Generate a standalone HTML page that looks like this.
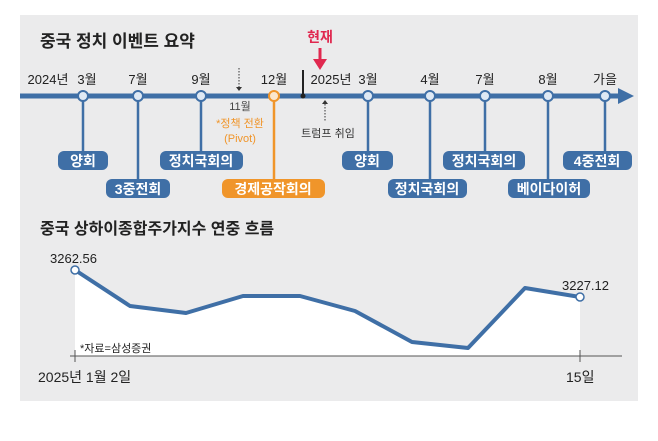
<!DOCTYPE html>
<html><head><meta charset="utf-8"><style>
body{margin:0;background:#fff;width:658px;height:436px;overflow:hidden}
svg text{font-family:"Liberation Sans","Noto Sans CJK KR",sans-serif}
</style></head><body>
<svg width="658" height="436" xmlns="http://www.w3.org/2000/svg">
<rect x="20" y="15" width="618" height="386" fill="#ebebec"/>
<text x="40" y="47" font-size="17" font-weight="bold" fill="#222">중국 정치 이벤트 요약</text>
<text x="320" y="42" font-size="14" font-weight="bold" fill="#e0284f" text-anchor="middle">현재</text>
<line x1="320" y1="48" x2="320" y2="60" stroke="#e0284f" stroke-width="3"/>
<polygon points="313,59 327,59 320,70" fill="#e0284f"/>
<line x1="20" y1="96" x2="622" y2="96" stroke="#3f6fa6" stroke-width="5"/>
<polygon points="618,88 634,96 618,104" fill="#3f6fa6"/>
<line x1="303" y1="70" x2="303" y2="96" stroke="#222" stroke-width="2"/>
<circle cx="303" cy="96" r="2.5" fill="#222"/>
<g font-size="13" fill="#222" text-anchor="middle">
<text x="48" y="84">2024년</text>
<text x="87" y="84">3월</text>
<text x="138" y="84">7월</text>
<text x="201" y="84">9월</text>
<text x="274" y="84">12월</text>
<text x="331" y="84">2025년</text>
<text x="368" y="84">3월</text>
<text x="430" y="84">4월</text>
<text x="485" y="84">7월</text>
<text x="548" y="84">8월</text>
<text x="605" y="84">가을</text>
</g>
<line x1="239" y1="68" x2="239" y2="88" stroke="#333" stroke-width="1" stroke-dasharray="1.5,1.5"/>
<polygon points="236,87 242,87 239,91" fill="#333"/>
<line x1="325" y1="104" x2="325" y2="122" stroke="#333" stroke-width="1" stroke-dasharray="1.5,1.5"/>
<polygon points="322,104 328,104 325,100" fill="#333"/>
<g font-size="11" text-anchor="middle">
<text x="240" y="110" fill="#444">11월</text>
<text x="240" y="127" fill="#f0952a">*정책 전환</text>
<text x="240" y="142" fill="#f0952a">(Pivot)</text>
<text x="328" y="137" fill="#333">트럼프 취임</text>
</g>
<g stroke="#3f6fa6" stroke-width="2.5">
<line x1="83" y1="96" x2="83" y2="155"/>
<line x1="138" y1="96" x2="138" y2="183"/>
<line x1="201" y1="96" x2="201" y2="155"/>
<line x1="368" y1="96" x2="368" y2="155"/>
<line x1="430" y1="96" x2="430" y2="183"/>
<line x1="485" y1="96" x2="485" y2="155"/>
<line x1="548" y1="96" x2="548" y2="183"/>
<line x1="605" y1="96" x2="605" y2="155"/>
</g>
<line x1="274" y1="96" x2="274" y2="183" stroke="#f0952a" stroke-width="2.5"/>
<g fill="#dfe9f4" stroke="#3f6fa6" stroke-width="2">
<circle cx="83" cy="96" r="5"/><circle cx="138" cy="96" r="5"/><circle cx="201" cy="96" r="5"/>
<circle cx="368" cy="96" r="5"/><circle cx="430" cy="96" r="5"/><circle cx="485" cy="96" r="5"/>
<circle cx="548" cy="96" r="5"/><circle cx="605" cy="96" r="5"/>
</g>
<circle cx="274" cy="96" r="5" fill="#fbe6cc" stroke="#f0952a" stroke-width="2"/>
<g fill="#3f6fa6">
<rect x="58" y="151" width="50" height="19" rx="6"/>
<rect x="106" y="179" width="64" height="19" rx="6"/>
<rect x="160" y="151" width="83" height="19" rx="6"/>
<rect x="342" y="151" width="51" height="19" rx="6"/>
<rect x="388" y="179" width="79" height="19" rx="6"/>
<rect x="443" y="151" width="82" height="19" rx="6"/>
<rect x="508" y="179" width="82" height="19" rx="6"/>
<rect x="563" y="151" width="69" height="19" rx="6"/>
</g>
<rect x="222" y="179" width="103" height="19" rx="6" fill="#f0952a"/>
<g font-size="14" font-weight="bold" fill="#fff" text-anchor="middle">
<text x="83" y="166">양회</text>
<text x="138" y="194">3중전회</text>
<text x="201" y="166">정치국회의</text>
<text x="273" y="194">경제공작회의</text>
<text x="367" y="166">양회</text>
<text x="427" y="194">정치국회의</text>
<text x="484" y="166">정치국회의</text>
<text x="549" y="194">베이다이허</text>
<text x="597" y="166">4중전회</text>
</g>
<text x="40" y="234" font-size="16" font-weight="bold" fill="#222">중국 상하이종합주가지수 연중 흐름</text>
<polygon points="75,270 130,306 186,313 243,296 300,296 355,311 412,342 468,348 525,288 580,297 580,356 75,356" fill="#fff"/>
<polyline points="75,270 130,306 186,313 243,296 300,296 355,311 412,342 468,348 525,288 580,297" fill="none" stroke="#3f6fa6" stroke-width="4" stroke-linejoin="round"/>
<circle cx="75" cy="270" r="4" fill="#fff" stroke="#3f6fa6" stroke-width="1.5"/>
<circle cx="580" cy="297" r="4" fill="#fff" stroke="#3f6fa6" stroke-width="1.5"/>
<line x1="70" y1="356" x2="622" y2="356" stroke="#555" stroke-width="1"/>
<line x1="75" y1="350" x2="75" y2="362" stroke="#555" stroke-width="1"/>
<line x1="580" y1="350" x2="580" y2="362" stroke="#555" stroke-width="1"/>
<g font-size="13" fill="#222">
<text x="50" y="263">3262.56</text>
<text x="562" y="290">3227.12</text>
<text x="38" y="382" font-size="14">2025년 1월 2일</text>
<text x="566" y="382" font-size="14">15일</text>
<text x="80" y="352" font-size="11">*자료=삼성증권</text>
</g>
</svg>
</body></html>
